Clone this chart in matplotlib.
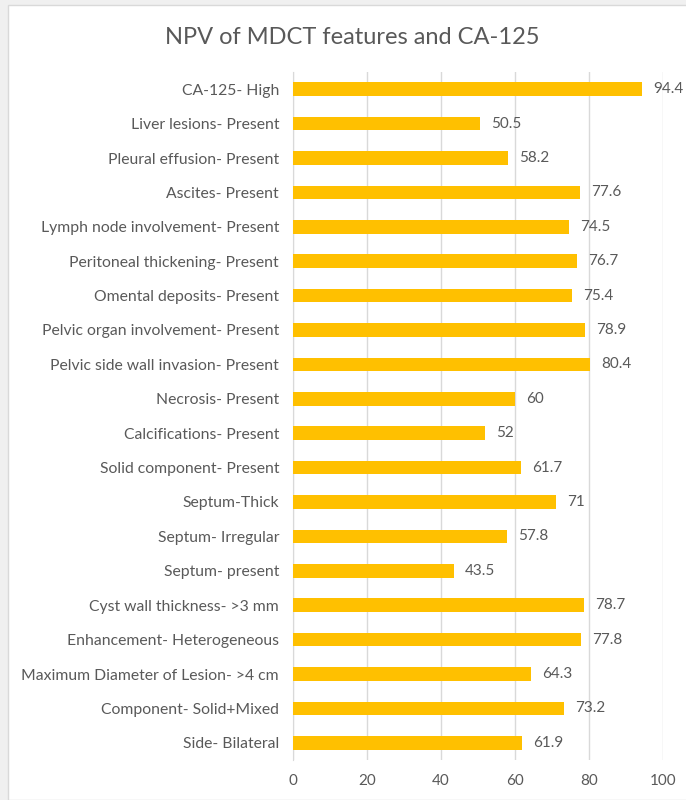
import matplotlib
matplotlib.use("Agg")
import matplotlib.pyplot as plt
from matplotlib.patches import Rectangle

categories = [
    "CA-125- High",
    "Liver lesions- Present",
    "Pleural effusion- Present",
    "Ascites- Present",
    "Lymph node involvement- Present",
    "Peritoneal thickening- Present",
    "Omental deposits- Present",
    "Pelvic organ involvement- Present",
    "Pelvic side wall invasion- Present",
    "Necrosis- Present",
    "Calcifications- Present",
    "Solid component- Present",
    "Septum-Thick",
    "Septum- Irregular",
    "Septum- present",
    "Cyst wall thickness- >3 mm",
    "Enhancement- Heterogeneous",
    "Maximum Diameter of Lesion- >4 cm",
    "Component- Solid+Mixed",
    "Side- Bilateral",
]
values = [94.4, 50.5, 58.2, 77.6, 74.5, 76.7, 75.4, 78.9, 80.4, 60,
          52, 61.7, 71, 57.8, 43.5, 78.7, 77.8, 64.3, 73.2, 61.9]
value_labels = ["94.4", "50.5", "58.2", "77.6", "74.5", "76.7", "75.4", "78.9",
                "80.4", "60", "52", "61.7", "71", "57.8", "43.5", "78.7",
                "77.8", "64.3", "73.2", "61.9"]
xticks = [0, 20, 40, 60, 80, 100]
title = "NPV of MDCT features and CA-125"

plt.rcParams['font.family'] = ['Lato', 'DejaVu Sans']
text_color = "#595959"
bar_color = "#FFC000"

fig = plt.figure(figsize=(6.86, 8.0), dpi=100, facecolor="#F0F0F0")
# white chart area with light border
bg = Rectangle((8/686, 0), 1, 1 - 5/800, transform=fig.transFigure,
               facecolor="white", edgecolor="#D9D9D9", linewidth=1.0,
               zorder=-10)
fig.add_artist(bg)

ax = fig.add_axes([293/686, 1 - 760/800, 370/686, (760 - 72)/800])
ax.set_zorder(5)
ax.set_facecolor("none")
n = len(categories)
ypos = list(range(n))[::-1]
ax.barh(ypos, values, height=0.4, color=bar_color, zorder=3)
ax.set_ylim(-0.5, n - 0.5)
ax.set_xlim(0, 100)
ax.set_yticks(ypos)
ax.set_yticklabels(categories, fontsize=11.3, color=text_color)
ax.set_xticks(xticks)
ax.set_xticklabels([str(t) for t in xticks], fontsize=11, color=text_color)
ax.tick_params(axis='both', length=0)
ax.tick_params(axis='y', pad=10)
ax.tick_params(axis='x', pad=10)
ax.grid(axis='x', color="#D9D9D9", linewidth=1.0, zorder=0)
for s in ["top", "right", "bottom"]:
    ax.spines[s].set_visible(False)
ax.spines["left"].set_color("#D9D9D9")
ax.spines["left"].set_zorder(1)

for y, v, lab in zip(ypos, values, value_labels):
    ax.annotate(lab, (v, y), xytext=(8, 0), textcoords="offset points",
                va="center", ha="left", fontsize=11, color=text_color,
                annotation_clip=False)

fig.text(352/686, 1 - 37/800, title, ha="center", va="center", fontsize=17,
         color=text_color, zorder=6)

fig.savefig("out.png", dpi=100, facecolor=fig.get_facecolor())
